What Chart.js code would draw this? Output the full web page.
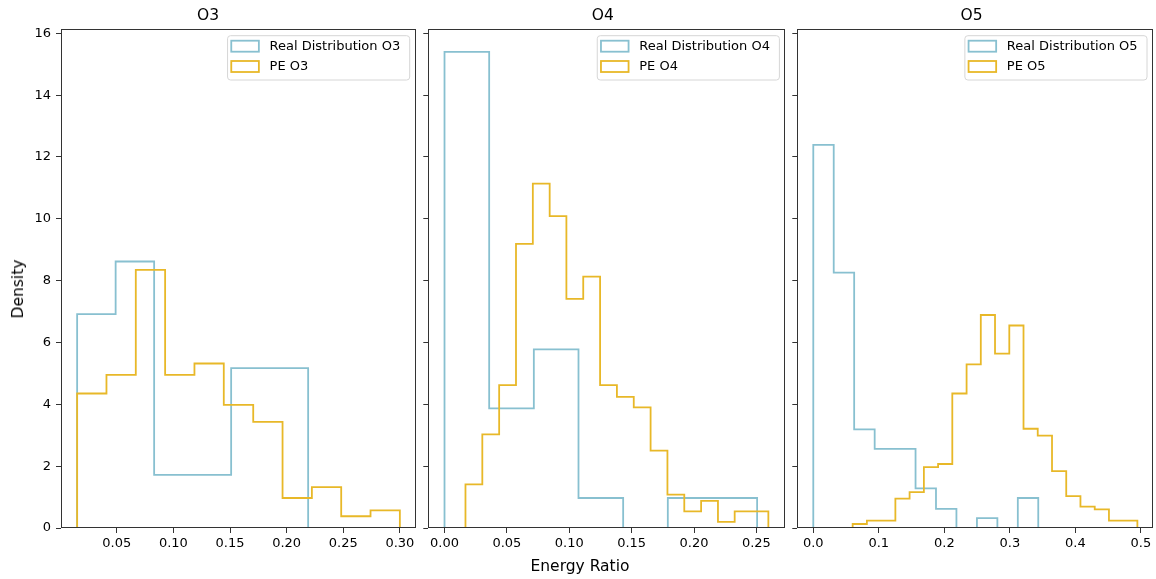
<!DOCTYPE html>
<html>
<head>
<meta charset="utf-8">
<script src="https://cdn.jsdelivr.net/npm/chart.js@4.4.1/dist/chart.umd.min.js"></script>
<style>
  body { margin: 0; background: #fff; width: 1156px; height: 579px; position: relative; overflow: hidden; font-family: "DejaVu Sans", sans-serif; }
  canvas { position: absolute; top: 0; }
  #c1 { left: 0; }
  #c2 { left: 420px; }
  #c3 { left: 790px; }
  .lbl { position: absolute; font-size: 15.5px; color: #000; white-space: nowrap; transform: translate(-50%, -50%); }
  #xlab { left: 580px; top: 566px; }
  #ylab { left: 17.5px; top: 289px; transform: translate(-50%, -50%) rotate(-90deg); }
</style>
</head>
<body>
<canvas id="c1" width="420" height="579"></canvas>
<canvas id="c2" width="370" height="579"></canvas>
<canvas id="c3" width="366" height="579"></canvas>
<div class="lbl" id="xlab">Energy Ratio</div>
<div class="lbl" id="ylab">Density</div>
<script>
// bin edges and densities
const realEdgesO3 = [0.015, 0.049, 0.083, 0.117, 0.151, 0.185, 0.219];
const realDensO3  = [6.92, 8.62, 1.72, 1.72, 5.17, 5.17];
const peEdgesO3   = [0.015, 0.0409, 0.0668, 0.0927, 0.1186, 0.1445, 0.1705, 0.1964, 0.2223, 0.2482, 0.2741, 0.300];
const peDensO3    = [4.35, 4.95, 8.35, 4.95, 5.32, 3.98, 3.43, 0.97, 1.32, 0.38, 0.57];

const realEdgesO4 = [0, 0.0358, 0.0716, 0.1074, 0.1432, 0.179, 0.2148, 0.2506];
const realDensO4  = [15.4, 3.87, 5.78, 0.97, 0, 0.97, 0.97];
const peEdgesO4   = [0.0168, 0.0303, 0.0438, 0.0573, 0.0708, 0.0843, 0.0977, 0.1112, 0.1247, 0.1382,
                     0.1517, 0.1652, 0.1787, 0.1922, 0.2057, 0.2192, 0.2326, 0.2461, 0.2596];
const peDensO4    = [1.41, 3.03, 4.62, 9.19, 11.14, 10.09, 7.41, 8.13, 4.62, 4.24, 3.9, 2.5, 1.08, 0.54, 0.88, 0.2, 0.54, 0.54];

const realEdgesO5 = [0, 0.0312, 0.0624, 0.0937, 0.1249, 0.1561, 0.1873, 0.2185, 0.2498, 0.281, 0.3122, 0.3434];
const realDensO5  = [12.39, 8.26, 3.19, 2.56, 2.56, 1.28, 0.62, 0, 0.32, 0, 0.97];
const peEdgesO5   = [0.0601, 0.0818, 0.1036, 0.1253, 0.147, 0.1688, 0.1905, 0.2122, 0.234, 0.2557, 0.2774,
                     0.2992, 0.3209, 0.3426, 0.3644, 0.3861, 0.4078, 0.4296, 0.4513, 0.473, 0.4947];
const peDensO5    = [0.13, 0.24, 0.24, 0.95, 1.16, 1.97, 2.07, 4.35, 5.29, 6.89, 5.64, 6.55, 3.21, 2.99, 1.84, 1.03, 0.69, 0.6, 0.24, 0.24];

const yTicks = [0, 2, 4, 6, 8, 10, 12, 14, 16];

const realColor = '#88c0d0';
const peColor = '#e8b828';

Chart.defaults.font.family = '"DejaVu Sans", sans-serif';
Chart.defaults.font.size = 13;
Chart.defaults.color = '#000';

// outline of a step histogram
function stepPoints(edges, dens) {
  const pts = [{ x: edges[0], y: 0 }];
  dens.forEach((d, i) => pts.push({ x: edges[i], y: d }));
  pts.push({ x: edges[edges.length - 1], y: 0 });
  return pts;
}

const frame = {
  id: 'frame',
  afterDatasetsDraw(chart) {
    const { ctx, chartArea: a } = chart;
    ctx.save();
    ctx.strokeStyle = '#333';
    ctx.lineWidth = 1;
    ctx.strokeRect(Math.round(a.left) + 0.5, Math.round(a.top) + 0.5,
      Math.round(a.right - a.left) - 1, Math.round(a.bottom - a.top) - 1);
    ctx.restore();
  }
};

const boxLegend = {
  id: 'boxLegend',
  afterDraw(chart) {
    const { ctx, chartArea: a } = chart;
    const sets = chart.data.datasets;
    ctx.save();
    ctx.font = '13px "DejaVu Sans"';
    const textW = Math.max(...sets.map(s => ctx.measureText(s.label).width));
    const w = 3.7 + 27.6 + 10.7 + textW + 9.5;
    const h = 44.3;
    const x = a.right - 6.3 - w, y = a.top + 6.7;
    ctx.beginPath();
    ctx.roundRect(x, y, w, h, 3);
    ctx.fillStyle = 'rgba(255,255,255,0.8)';
    ctx.fill();
    ctx.strokeStyle = '#d6d6d6';
    ctx.lineWidth = 1;
    ctx.stroke();
    sets.forEach((s, i) => {
      const ry = y + 5 + i * 20.3;
      ctx.strokeStyle = s.borderColor;
      ctx.lineWidth = 1.8;
      ctx.strokeRect(x + 3.7, ry, 27.6, 11);
      ctx.fillStyle = '#000';
      ctx.textBaseline = 'middle';
      ctx.textAlign = 'left';
      ctx.fillText(s.label, x + 3.7 + 27.6 + 10.7, ry + 6);
    });
    ctx.restore();
  }
};

function makePanel(id, title, realE, realD, peE, peD, xmin, xmax, xstep, dec, showY, yW, padR) {
  new Chart(document.getElementById(id), {
    type: 'line',
    data: {
      datasets: [
        { label: 'Real Distribution ' + title, data: stepPoints(realE, realD), borderColor: realColor, order: 1 },
        { label: 'PE ' + title, data: stepPoints(peE, peD), borderColor: peColor, order: 0 }
      ]
    },
    options: {
      responsive: false,
      animation: false,
      layout: { padding: { left: 0, top: 0, bottom: 0, right: padR } },
      elements: {
        line: { stepped: 'before', borderWidth: 1.8, fill: false, tension: 0 },
        point: { radius: 0 }
      },
      plugins: {
        legend: { display: false },
        tooltip: { enabled: false },
        title: { display: true, text: title, font: { size: 15.5, weight: 'normal' }, color: '#000', padding: { top: 7, bottom: 3.4 } }
      },
      scales: {
        x: {
          type: 'linear',
          min: xmin, max: xmax,
          afterFit: s => { s.height = 51; },
          border: { display: false },
          grid: { drawOnChartArea: false, drawTicks: true, tickLength: 5, color: '#333' },
          ticks: { stepSize: xstep, includeBounds: false, padding: 3, maxRotation: 0, autoSkip: false,
                   callback: v => Number(v).toFixed(dec) }
        },
        y: {
          min: 0, max: 16.14,
          afterFit: s => { s.width = yW; },
          afterBuildTicks: s => { s.ticks = yTicks.map(v => ({ value: v })); },
          border: { display: false },
          grid: { drawOnChartArea: false, drawTicks: true, tickLength: 5, color: '#333' },
          ticks: { display: showY, padding: 5 }
        }
      }
    },
    plugins: [frame, boxLegend]
  });
}

makePanel('c1', 'O3', realEdgesO3, realDensO3, peEdgesO3, peDensO3, 0.00075, 0.31425, 0.05, 2, true, 61, 4);
makePanel('c2', 'O4', realEdgesO4, realDensO4, peEdgesO4, peDensO4, -0.013, 0.2735, 0.05, 2, false, 8.3, 4.3);
makePanel('c3', 'O5', realEdgesO5, realDensO5, peEdgesO5, peDensO5, -0.0244, 0.519, 0.1, 1, false, 7.3, 2.7);
</script>
</body>
</html>
